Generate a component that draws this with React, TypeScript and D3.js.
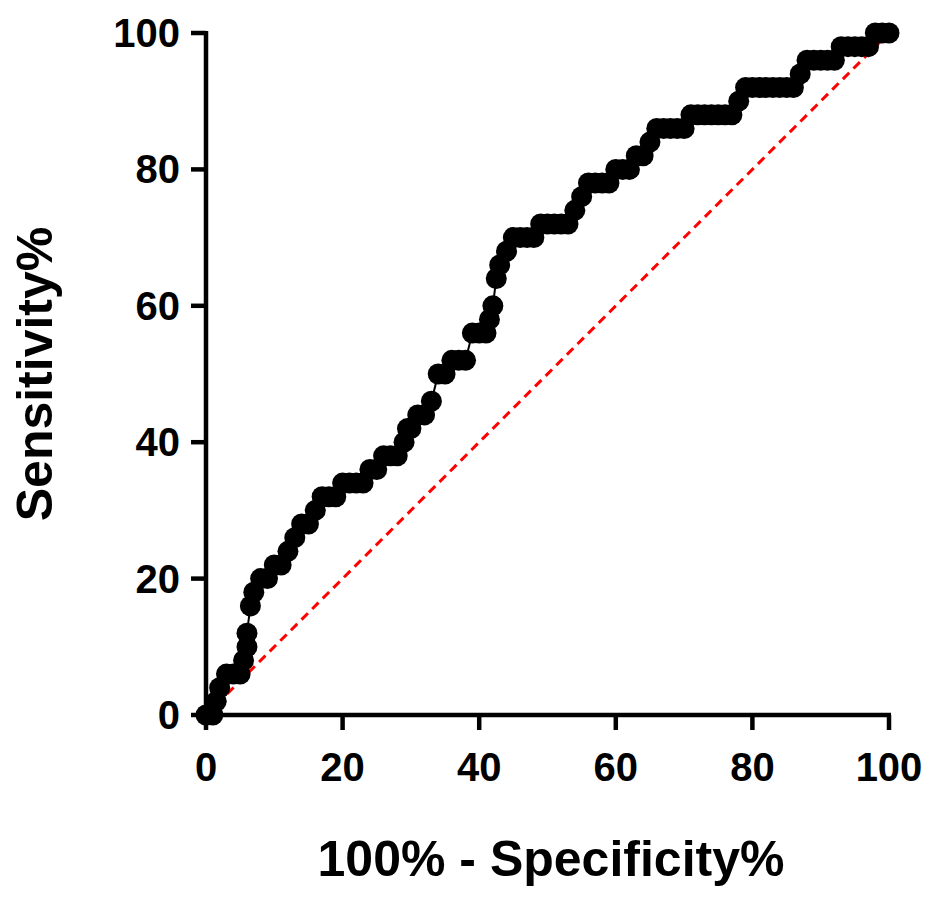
import React from "react";
import * as d3 from "d3";

const fpr = [0,1,1.5,2,3,4,5,5.5,6,6,6.5,7,8,9,10,11,12,13,14,15,16,17,18,19,20,21,22,23,24,25,26,27,28,29,29.5,30,31,32,33,34,35,36,37,38,39,40,41,41.5,42,42.5,43,44,45,46,47,48,49,50,51,52,53,54,55,56,57,58,59,60,61,62,63,64,65,66,67,68,69,70,71,72,73,74,75,76,77,78,79,80,81,82,83,84,85,86,87,88,89,90,91,92,93,94,95,96,97,98,99,100];
const tpr = [0,0,2,4,6,6,6,8,10,12,16,18,20,20,22,22,24,26,28,28,30,32,32,32,34,34,34,34,36,36,38,38,38,40,42,42,44,44,46,50,50,52,52,52,56,56,56,58,60,64,66,68,70,70,70,70,72,72,72,72,72,74,76,78,78,78,78,80,80,80,82,82,84,86,86,86,86,86,88,88,88,88,88,88,88,90,92,92,92,92,92,92,92,92,94,96,96,96,96,96,98,98,98,98,98,100,100,100,100];
const xTicks = [0,20,40,60,80,100];
const yTicks = [0,20,40,60,80,100];

export default function App() {
  const x = d3.scaleLinear().domain([0,100]).range([198,881]);
  const y = d3.scaleLinear().domain([0,100]).range([707,25]);
  const pts = fpr.map((v,i)=>[x(v), y(tpr[i])] as [number,number]);
  const line = d3.line()(pts) || "";
  const font = "Arial, 'Liberation Sans', sans-serif";
  return (
    <svg width={929} height={898} style={{display:"block"}} fontFamily={font} fontWeight="bold">
      <line x1={x(0)} y1={y(0)} x2={x(100)} y2={y(100)} stroke="#ff0000" strokeWidth={3} strokeDasharray="9,6"/>
      <path d={line} fill="none" stroke="#000" strokeWidth={2}/>
      {pts.map((p,i)=><circle key={i} cx={p[0]} cy={p[1]} r={10.5} fill="#000"/>)}
      <line x1={x(0)} y1={y(0)} x2={x(100)+2} y2={y(0)} stroke="#000" strokeWidth={4.5}/>
      <line x1={x(0)} y1={y(0)+2} x2={x(0)} y2={y(100)-2} stroke="#000" strokeWidth={4.5}/>
      {xTicks.map(t=>(
        <g key={t}>
          <line x1={x(t)} x2={x(t)} y1={y(0)} y2={y(0)+15} stroke="#000" strokeWidth={4.5}/>
          <text x={x(t)} y={y(0)+66} textAnchor="middle" fontSize={40}>{t}</text>
        </g>
      ))}
      {yTicks.map(t=>(
        <g key={t}>
          <line x1={x(0)-15} x2={x(0)} y1={y(t)} y2={y(t)} stroke="#000" strokeWidth={4.5}/>
          <text x={x(0)-26} y={y(t)+14} textAnchor="end" fontSize={40}>{t}</text>
        </g>
      ))}
      <text x={543} y={868} textAnchor="middle" fontSize={50}>100% - Specificity%</text>
      <text transform={`translate(44,366) rotate(-90)`} textAnchor="middle" fontSize={50}>Sensitivity%</text>
    </svg>
  );
}
